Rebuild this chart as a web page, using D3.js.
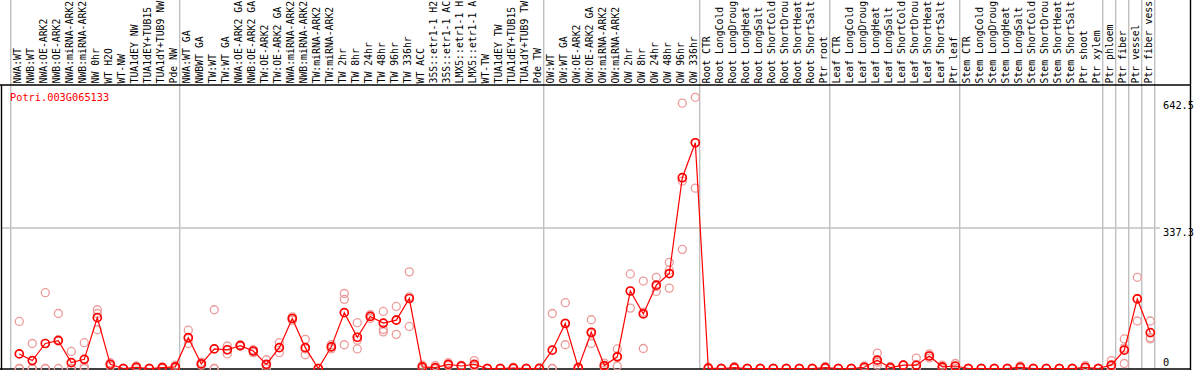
<!DOCTYPE html>
<html><head><meta charset="utf-8">
<script src="https://cdn.jsdelivr.net/npm/d3@7"></script>
<style>body{margin:0;background:#fff;} svg{display:block;}</style>
</head><body><div id="chart"></div>
<script>
const title = "Potri.003G065133";
const categories = ["NWA:WT","NWB:WT","NWA:OE-ARK2","NWB:OE-ARK2","NWA:miRNA-ARK2","NWB:miRNA-ARK2","NW 0hr","WT H2O","WT-NW","TUA1dEY NW","TUA1dEY+TUB15","TUA1dY+TUB9 NW","Pde NW",
"NWA:WT GA","NWBWT GA","TW:WT","TW:WT GA","NWA:OE-ARK2 GA","NWB:OE-ARK2 GA","TW:OE-ARK2","TW:OE-ARK2 GA","NWA:miRNA-ARK2","NWB:miRNA-ARK2","TW:miRNA-ARK2","TW:miRNA-ARK2","TW 2hr","TW 8hr","TW 24hr","TW 48hr","TW 96hr","TW 336hr","WT ACC","35S::etr1-1 H2","35S::etr1-1 AC","LMX5::etr1-1 H","LMX5::etr1-1 A","WT-TW","TUA1dEY TW","TUA1dEY+TUB15","TUA1dY+TUB9 TW","Pde TW",
"OW:WT","OW:WT GA","OW:OE-ARK2","OW:OE-ARK2 GA","OW:miRNA-ARK2","OW:miRNA-ARK2","OW 2hr","OW 8hr","OW 24hr","OW 48hr","OW 96hr","OW 336hr",
"Root CTR","Root LongCold","Root LongDroug","Root LongHeat","Root LongSalt","Root ShortCold","Root ShortDrou","Root ShortHeat","Root ShortSalt","Ptr root",
"Leaf CTR","Leaf LongCold","Leaf LongDroug","Leaf LongHeat","Leaf LongSalt","Leaf ShortCold","Leaf ShortDrou","Leaf ShortHeat","Leaf ShortSalt","Ptr leaf",
"Stem CTR","Stem LongCold","Stem LongDroug","Stem LongHeat","Stem LongSalt","Stem ShortCold","Stem ShortDrou","Stem ShortHeat","Stem ShortSalt","Ptr shoot",
"Ptr xylem","Ptr phloem","Ptr fiber","Ptr vessel","Ptr fiber vess"];
// group separators: index of first column of each new group
const groupStarts = [0,13,41,53,63,73,84,85,86,87,88];
const meanValues = [35,19,60,67,14,22,122,10,0,3,0,2,4,
74,11,47,45,55,42,10,50,120,50,0,52,134,75,125,109,116,168,4,2,10,6,10,0,0,1,0,0,
44,108,2,87,7,28,186,131,200,228,458,542,
1,0,2,0,0,0,0,0,0,2,
0,0,3,20,2,8,8,30,4,6,
0,0,0,0,3,0,0,0,0,3,
0,8,44,167,86];
const rep1 = [113,60,182,132,41,62,141,14,0,6,0,4,8,
92,15,141,54,57,45,21,62,124,70,0,57,180,110,129,137,149,232,8,7,14,8,19,0,0,3,0,2,
132,158,3,117,13,47,227,210,219,255,637,651,
3,0,5,0,0,0,0,0,0,5,
0,0,6,37,5,8,25,35,8,12,
0,0,0,0,6,0,0,0,0,7,
0,19,71,219,114];
const rep2 = [0,0,0,69,0,5,132,10,0,3,0,2,3,
60,10,0,45,54,42,8,50,120,47,0,52,166,68,125,94,117,172,3,0,9,6,7,0,0,1,0,0,
0,109,2,84,5,30,186,135,197,236,450,542,
0,0,1,0,0,0,0,0,0,1,
0,0,3,15,1,8,0,30,3,5,
0,0,0,0,3,0,0,0,0,2,
0,5,49,168,74];
const rep3 = [0,0,0,0,0,0,93,5,0,0,0,0,0,
72,8,0,35,54,38,0,38,116,33,0,47,57,47,120,88,82,101,0,0,7,4,5,0,0,0,0,0,
0,57,0,60,3,6,145,48,185,193,286,433,
0,0,0,0,0,0,0,0,0,0,
0,0,0,8,0,8,0,25,0,1,
0,0,0,0,0,0,0,0,0,0,
0,0,12,114,71];
const tickValues = [0, 337.3, 642.5];
const gridValues = [337.3];

const W = 1194, H = 370;
const left = 10.7, colW = 13, plotRight = left + categories.length*colW;
const svg = d3.select("#chart").append("svg").attr("width", W).attr("height", H);
const font = "'DejaVu Sans Mono', monospace";

const x = d3.scaleBand().domain(d3.range(categories.length)).range([left, plotRight]).padding(0);
const y = d3.scaleLinear().domain([0, 337.3]).range([368.5, 228]);
const px = i => x(i) + 8.6;

// vertical group lines
svg.append("g").selectAll("line").data(groupStarts).join("line")
  .attr("x1", d => left + d*colW).attr("x2", d => left + d*colW)
  .attr("y1", 0).attr("y2", 369)
  .attr("stroke", "#c0c0c0").attr("stroke-width", 1.4);
// horizontal grid
svg.append("g").selectAll("line").data(gridValues).join("line")
  .attr("x1", 2).attr("x2", 1160).attr("y1", d => y(d)).attr("y2", d => y(d))
  .attr("stroke", "#c0c0c0").attr("stroke-width", 1.4);

// header labels
svg.append("g").selectAll("text").data(categories).join("text")
  .attr("transform", (d,i) => `translate(${x(i)+10.2},83.5) rotate(-90)`)
  .attr("font-family", font).attr("font-size", 9.8).attr("fill", "#000")
  .text(d => d);

// borders
svg.append("line").attr("x1",0).attr("x2",1191).attr("y1",85).attr("y2",85).attr("stroke","#000").attr("stroke-width",1.4);
svg.append("line").attr("x1",0).attr("x2",1191).attr("y1",369).attr("y2",369).attr("stroke","#000").attr("stroke-width",1.4);
svg.append("line").attr("x1",1.5).attr("x2",1.5).attr("y1",85).attr("y2",370).attr("stroke","#000").attr("stroke-width",1.4);
svg.append("line").attr("x1",1190.5).attr("x2",1190.5).attr("y1",0).attr("y2",370).attr("stroke","#000").attr("stroke-width",1.4);

// title
svg.append("text").attr("x", 10).attr("y", 101).attr("font-family", font).attr("font-size", 10.3)
  .attr("fill", "#ff0000").text(title);

// axis labels
svg.append("g").selectAll("text").data(tickValues).join("text")
  .attr("x", 1163).attr("y", d => d === 0 ? y(d) - 3 : y(d) + 8)
  .attr("font-family", font).attr("font-size", 10.3).attr("fill", "#000")
  .text(d => d);

// replicates
const reps = [rep1, rep2, rep3];
const repPts = [];
reps.forEach(r => r.forEach((v,i) => repPts.push({i, v})));
svg.append("g").selectAll("circle").data(repPts).join("circle")
  .attr("cx", d => px(d.i)).attr("cy", d => y(d.v)).attr("r", 4)
  .attr("fill", "none").attr("stroke", "#ec9a9a").attr("stroke-width", 1.3);

// mean line
svg.append("path").datum(meanValues)
  .attr("d", d3.line().x((d,i) => px(i)).y(d => y(d)))
  .attr("fill", "none").attr("stroke", "#ff0000").attr("stroke-width", 1.2);
svg.append("g").selectAll("circle").data(meanValues).join("circle")
  .attr("cx", (d,i) => px(i)).attr("cy", d => y(d)).attr("r", 4)
  .attr("fill", "none").attr("stroke", "#ff0000").attr("stroke-width", 1.7);
</script></body></html>
